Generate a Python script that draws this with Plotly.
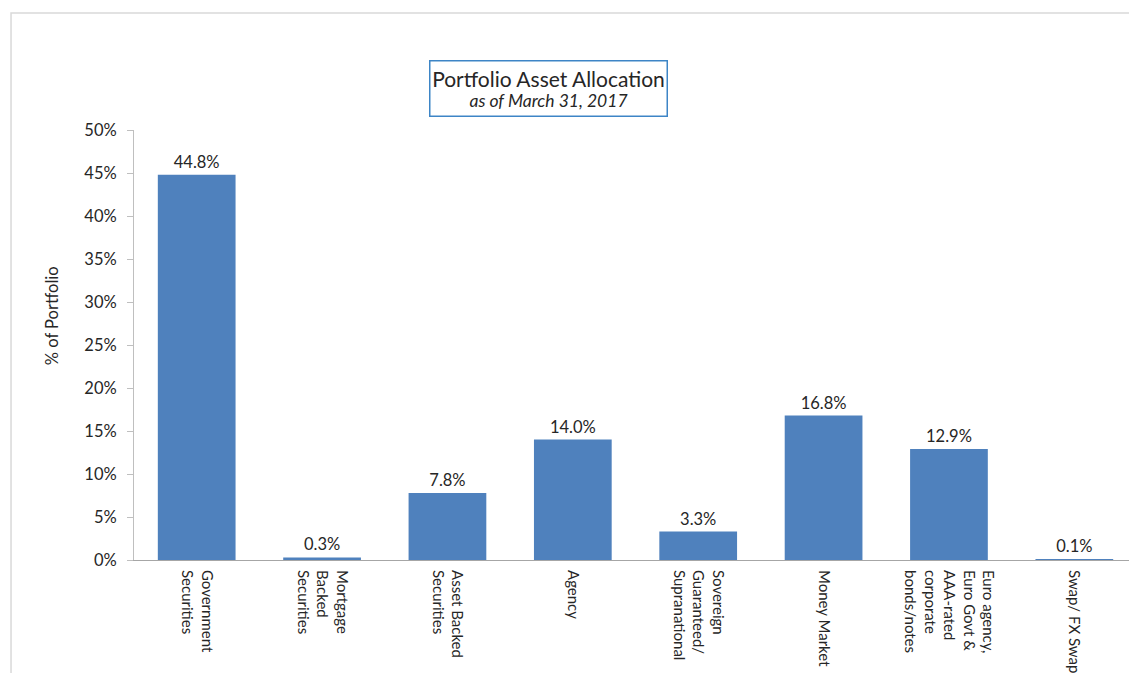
import plotly.graph_objects as go

categories = [
    "Government<br>Securities",
    "Mortgage<br>Backed<br>Securities",
    "Asset Backed<br>Securities",
    "Agency",
    "Sovereign<br>Guaranteed/<br>Supranational",
    "Money Market",
    "Euro agency,<br>Euro Govt &<br>AAA-rated<br>corporate<br>bonds/notes",
    "Swap/ FX Swap",
]
values = [44.8, 0.3, 7.8, 14.0, 3.3, 16.8, 12.9, 0.1]
labels = [f"{v:.1f}%" for v in values]
y_title = "% of Portfolio"

FONT = "Lato"
TXT = "#262626"

fig = go.Figure()
fig.add_trace(go.Bar(
    x=categories, y=values, text=labels, textposition="outside",
    textfont=dict(family=FONT, size=16.5, color=TXT),
    marker=dict(color="#4F81BD", line=dict(width=0)),
    cliponaxis=False, hoverinfo="skip",
))

fig.update_layout(
    width=1121, height=665,
    margin=dict(l=126, r=0, t=122, b=113),
    paper_bgcolor="white", plot_bgcolor="white",
    bargap=0.38, showlegend=False,
    font=dict(family=FONT, size=15, color=TXT),
    xaxis=dict(
        range=[-0.5, 7.436],
        showline=True, linecolor="#a6a6a6", linewidth=1,
        ticks="", tickangle=90, showgrid=False,
        ticklabelstandoff=6,
        tickfont=dict(family=FONT, size=15, color=TXT),
    ),
    yaxis=dict(
        range=[0, 50], dtick=5, ticksuffix="%",
        showline=True, linecolor="#bfbfbf", linewidth=1,
        ticks="outside", ticklen=6, tickcolor="#bfbfbf",
        showgrid=False, zeroline=False,
        ticklabelstandoff=7,
        tickfont=dict(family=FONT, size=16.5, color=TXT),
    ),
    shapes=[dict(
        type="rect", xref="paper", yref="paper",
        x0=-0.1236, x1=1.05, y0=-0.5, y1=1.272,
        line=dict(color="#d9d9d9", width=1.5), fillcolor="rgba(0,0,0,0)",
        layer="below",
    )],
    annotations=[
        dict(
            xref="paper", yref="paper", x=0.4166, y=1.0965,
            xanchor="center", yanchor="middle",
            text="<span style='font-size:21px'>Portfolio Asset Allocation</span><br>"
                 "<i><span style='font-size:17.5px'>as of March 31, 2017</span></i>",
            showarrow=False, align="center",
            width=234, height=52,
            bordercolor="#3d85c6", borderwidth=1.5, borderpad=1,
            bgcolor="white",
            font=dict(family=FONT, color=TXT),
        ),
        dict(
            xref="paper", yref="paper", x=-0.0824, y=0.567,
            xanchor="center", yanchor="middle", textangle=-90,
            text=y_title, showarrow=False,
            font=dict(family=FONT, size=16.5, color=TXT),
        ),
    ],
)

fig.write_html("out.html")
